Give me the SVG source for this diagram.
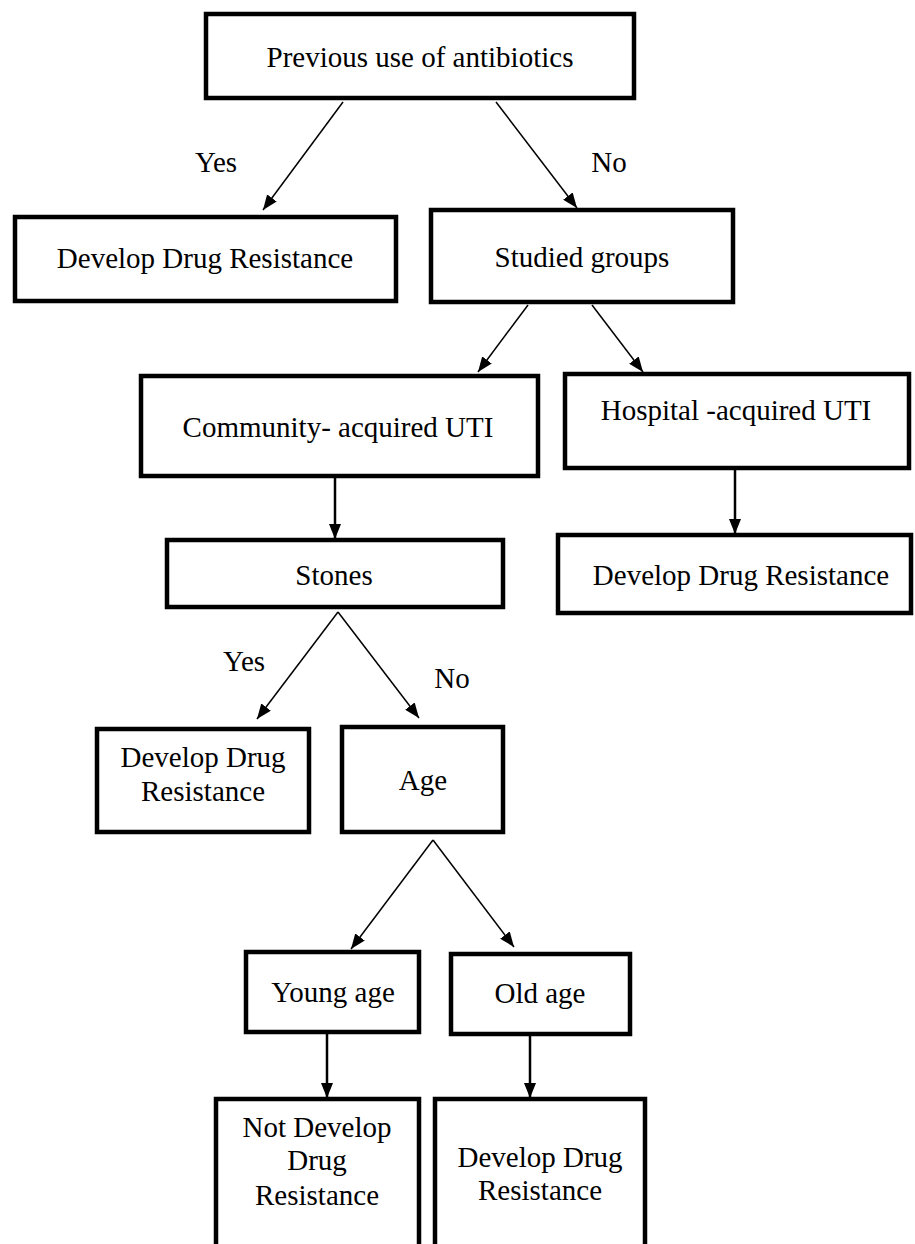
<svg xmlns="http://www.w3.org/2000/svg" width="915" height="1244" viewBox="0 0 915 1244">
<style>
.box{fill:#fff;stroke:#000;stroke-width:4.5}
.t{font-family:"Liberation Serif","Times New Roman",serif;font-size:29px;fill:#000;text-anchor:middle}
.c{stroke:#000;stroke-width:1.5;fill:none}
.cv{stroke:#000;stroke-width:2.5;fill:none}
</style>
<defs>
<marker id="ah" markerUnits="userSpaceOnUse" markerWidth="16" markerHeight="12" refX="15" refY="6" orient="auto">
<path d="M0,0 L15,6 L0,12 z" fill="#000"/>
</marker>
</defs>
<rect width="915" height="1244" fill="#fff"/>
<g id="connectors">
<line class="c" x1="343" y1="102" x2="263" y2="210" marker-end="url(#ah)"/>
<line class="c" x1="496" y1="102" x2="577" y2="208" marker-end="url(#ah)"/>
<line class="c" x1="528" y1="305" x2="478" y2="372" marker-end="url(#ah)"/>
<line class="c" x1="592" y1="305" x2="643" y2="372" marker-end="url(#ah)"/>
<line class="cv" x1="335" y1="478" x2="335" y2="539" marker-end="url(#ah)"/>
<line class="cv" x1="735" y1="470" x2="735" y2="534" marker-end="url(#ah)"/>
<line class="c" x1="338" y1="612" x2="257" y2="719" marker-end="url(#ah)"/>
<line class="c" x1="338" y1="612" x2="419" y2="718" marker-end="url(#ah)"/>
<line class="c" x1="433" y1="840" x2="351" y2="949" marker-end="url(#ah)"/>
<line class="c" x1="433" y1="840" x2="514" y2="947" marker-end="url(#ah)"/>
<line class="cv" x1="327" y1="1034" x2="327" y2="1098" marker-end="url(#ah)"/>
<line class="cv" x1="530" y1="1036" x2="530" y2="1098" marker-end="url(#ah)"/>
<text class="t" x="216" y="172">Yes</text>
<text class="t" x="609" y="172">No</text>
<text class="t" x="244" y="671">Yes</text>
<text class="t" x="452" y="688">No</text>
</g>
<g id="n-previous"><rect class="box" x="206" y="14" width="428" height="84"/><text class="t" x="420" y="67">Previous use of antibiotics</text></g>
<g id="n-ddr1"><rect class="box" x="15" y="217" width="381" height="84"/><text class="t" x="205" y="268">Develop Drug Resistance</text></g>
<g id="n-studied"><rect class="box" x="431" y="210" width="302" height="92"/><text class="t" x="582" y="267">Studied groups</text></g>
<g id="n-community"><rect class="box" x="141" y="376" width="397" height="100"/><text class="t" x="338" y="437">Community- acquired UTI</text></g>
<g id="n-hospital"><rect class="box" x="565" y="374" width="344" height="94"/><text class="t" x="736" y="420">Hospital -acquired UTI</text></g>
<g id="n-stones"><rect class="box" x="167" y="540" width="336" height="67"/><text class="t" x="334" y="585">Stones</text></g>
<g id="n-ddr2"><rect class="box" x="558" y="535" width="353" height="78"/><text class="t" x="741" y="585">Develop Drug Resistance</text></g>
<g id="n-ddr3"><rect class="box" x="97" y="729" width="212" height="103"/><text class="t" x="203" y="767">Develop Drug</text><text class="t" x="203" y="801">Resistance</text></g>
<g id="n-age"><rect class="box" x="342" y="727" width="161" height="105"/><text class="t" x="423" y="790">Age</text></g>
<g id="n-young"><rect class="box" x="246" y="952" width="173" height="80"/><text class="t" x="333" y="1002">Young age</text></g>
<g id="n-old"><rect class="box" x="451" y="954" width="179" height="80"/><text class="t" x="540" y="1003">Old age</text></g>
<g id="n-notdev"><rect class="box" x="216" y="1099" width="203" height="200"/><text class="t" x="317" y="1137">Not Develop</text><text class="t" x="317" y="1170">Drug</text><text class="t" x="317" y="1205">Resistance</text></g>
<g id="n-ddr4"><rect class="box" x="435" y="1099" width="210" height="200"/><text class="t" x="540" y="1167">Develop Drug</text><text class="t" x="540" y="1200">Resistance</text></g>
</svg>
